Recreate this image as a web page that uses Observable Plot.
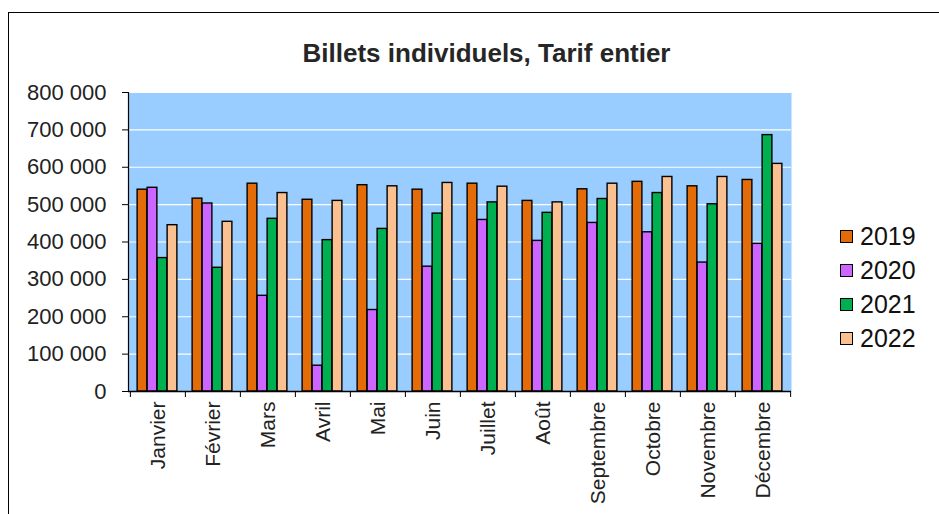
<!DOCTYPE html>
<html>
<head>
<meta charset="utf-8">
<script src="https://cdn.jsdelivr.net/npm/d3@7"></script>
<script src="https://cdn.jsdelivr.net/npm/@observablehq/plot@0.6"></script>
<style>
  html, body { margin: 0; padding: 0; background: #fff; overflow: hidden; width: 939px; height: 514px; }
  body { position: relative; font-family: "Liberation Sans", Arial, sans-serif; }
  #frame { position: absolute; left: 8px; top: 12px; width: 1200px; height: 1000px; border: 1px solid #000; box-sizing: border-box; }
  #title { position: absolute; left: 0; width: 973px; top: 40px; text-align: center; font-size: 26px; line-height: 26px; font-weight: bold; color: #262626; white-space: nowrap; }
  #chart { position: absolute; left: 0; top: 0; }
  #legend { position: absolute; left: 840px; top: 219px; }
  .row { display: flex; align-items: center; height: 34px; font-size: 25px; line-height: 34px; color: #111; }
  .sw { width: 13px; height: 13px; border: 1.5px solid #000; box-sizing: border-box; margin-right: 7px; }
</style>
</head>
<body>
<div id="frame"></div>
<div id="chart"></div>
<div id="title">Billets individuels, Tarif entier</div>
<div id="legend"></div>
<script>
const months = ["Janvier","Février","Mars","Avril","Mai","Juin","Juillet","Août","Septembre","Octobre","Novembre","Décembre"];
const years = ["2019","2020","2021","2022"];
const v2019 = [540000,516000,556000,513000,552000,540000,556000,510000,541000,561000,549000,566000];
const v2020 = [545000,503000,256000,69000,218000,334000,459000,403000,451000,426000,345000,395000];
const v2021 = [357000,331000,462000,405000,435000,476000,506000,478000,515000,531000,501000,686000];
const v2022 = [445000,454000,531000,510000,549000,558000,548000,506000,556000,574000,574000,609000];
const yTicks = [0,100000,200000,300000,400000,500000,600000,700000,800000];
const colors = ["#E36C09","#CC66FF","#00B050","#FAC090"];

const series = [v2019, v2020, v2021, v2022];

const W = 939, H = 514;
const mL = 128, mR = 148, mT = 92, mB = 123;
const bw = (W - mL - mR) / months.length;
const barW = 10;

const fr = d3.formatLocale({decimal: ",", thousands: "\u00a0", grouping: [3], currency: ["", " €"]}).format(",");

const barMarks = series.map((vals, k) => {
  const rows = months.map((m, i) => ({month: m, value: vals[i]}));
  const inset = (bw - barW) / 2;
  return Plot.barY(rows, {
    x: "month", y: "value",
    fill: colors[k], stroke: "#000", strokeWidth: 1.4,
    insetLeft: inset, insetRight: inset,
    dx: (k - (series.length - 1) / 2) * barW - 0.5
  });
});

const chart = Plot.plot({
  width: W, height: H,
  marginLeft: mL, marginRight: mR, marginTop: mT, marginBottom: mB,
  style: {fontFamily: "'Liberation Sans', Arial, sans-serif", color: "#111", background: "transparent"},
  x: {domain: months, padding: 0, axis: null},
  y: {domain: [0, 800000], axis: null},
  marks: [
    Plot.frame({fill: "#99CCFF", stroke: null}),
    Plot.gridY({ticks: yTicks.slice(1), stroke: "#fff", strokeOpacity: 1, strokeWidth: 1.2}),
    ...barMarks,
    Plot.frame({anchor: "left", stroke: "#000", strokeWidth: 1.2}),
    Plot.ruleY([0], {stroke: "#000", strokeWidth: 1.5}),
    Plot.axisY({ticks: yTicks, tickSize: 6, tickPadding: 16, tickFormat: fr, fontSize: 22, fill: "#222", stroke: "#000", label: null}),
    Plot.axisX({tickSize: 6, tickFormat: () => "", dx: -bw / 2, stroke: "#000", label: null}),
    Plot.axisX({ticks: [months[months.length - 1]], tickSize: 6, tickFormat: () => "", dx: bw / 2, stroke: "#000", label: null}),
    Plot.axisX({tickSize: 0, tickPadding: 10, tickRotate: -90, fontSize: 21, fill: "#222", label: null})
  ]
});
document.getElementById("chart").appendChild(chart);

const legend = document.getElementById("legend");
years.forEach((y, k) => {
  const row = document.createElement("div");
  row.className = "row";
  const sw = document.createElement("span");
  sw.className = "sw";
  sw.style.background = colors[k];
  const t = document.createElement("span");
  t.textContent = y;
  row.appendChild(sw);
  row.appendChild(t);
  legend.appendChild(row);
});
</script>
</body>
</html>
